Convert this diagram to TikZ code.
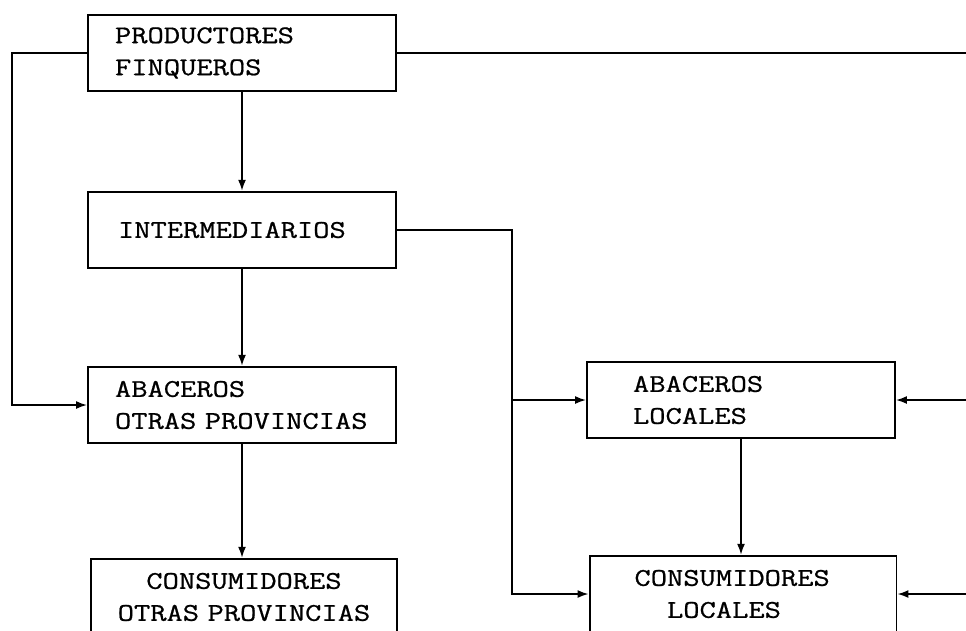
\documentclass[tikz,border=0pt]{standalone}
\usepackage{fontspec}
\newfontfamily\maschine{Latin Modern Mono}[FakeStretch=1.24, FakeBold=0.8]
\usetikzlibrary{arrows.meta}

\tikzset{
	kasten/.style={draw, line width=1.1pt, minimum height=1.53cm, font={\maschine\fontsize{14.5pt}{18.2pt}\selectfont\fontdimen2\font=\fontcharwd\font`\A}},
	pfeil/.style={line width=1pt, -{Latex[length=2.2mm,width=1.6mm]}},
	linie/.style={line width=1pt}
}

\begin{document}
\begin{tikzpicture}[x=0.02cm, y=-0.02cm]
		
		\useasboundingbox (0,0) rectangle (966,630);
		\clip (0,0) rectangle (966,630);
		
		% Kaesten
		\node[kasten, align=left, text width=5.08cm, inner xsep=0.54cm] (prod) at (242,53) {PRODUCTORES\\FINQUEROS};
		\node[kasten, align=left, text width=4.96cm, inner xsep=0.6cm] (inter) at (242,230) {INTERMEDIARIOS};
		\node[kasten, align=left, text width=5.08cm, inner xsep=0.54cm] (abaotr) at (242,405) {ABACEROS\\OTRAS~PROVINCIAS};
		\node[kasten, align=center, text width=5.52cm, inner xsep=0.3cm] (conotr) at (244,597) {CONSUMIDORES\\OTRAS~PROVINCIAS};
		\node[kasten, align=left, text width=4.32cm, inner xsep=0.92cm] (abaloc) at (741,400) {ABACEROS\\LOCALES};
		\node[kasten, align=left, text width=4.34cm, inner xsep=0.9cm] (conloc) at (743,594) {CONSUMIDORES\\\phantom{XX}LOCALES};
		
		% Hilfspunkte
		\coordinate (links) at (12,53);
		\coordinate (rechts) at (966,52);
		\coordinate (gabel) at (512,230);
		
		% Verbindungen links
		\draw[pfeil] (prod.west) -- (links) |- (abaotr.west);
		\draw[linie] (prod.east) -- (prod.east -| rechts);
		\draw[pfeil] (prod.south) -- (inter.north);
		\draw[pfeil] (inter.south) -- (abaotr.north);
		\draw[pfeil] (abaotr.south) -- (abaotr.south |- conotr.north);
		
		% Verbindungen rechts
		\draw[pfeil] (inter.east) -- (gabel) |- (conloc.west);
		\draw[pfeil] (gabel |- abaloc.west) -- (abaloc.west);
		\draw[pfeil] (abaloc.south) -- (abaloc.south |- conloc.north);
		\draw[pfeil] (abaloc.east -| rechts) -- (abaloc.east);
		\draw[pfeil] (conloc.east -| rechts) -- (conloc.east);
		
	\end{tikzpicture}
\end{document}
